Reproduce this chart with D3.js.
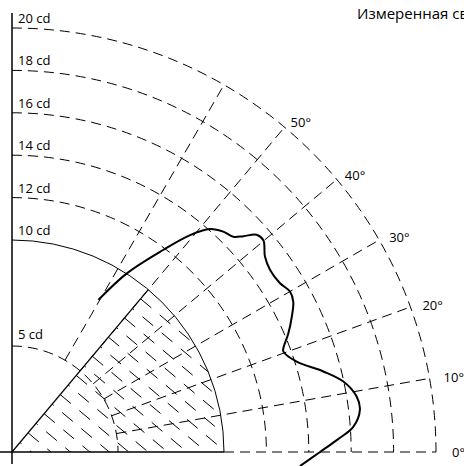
<!DOCTYPE html>
<html>
<head>
<meta charset="utf-8">
<script src="https://cdn.jsdelivr.net/npm/d3@7"></script>
<style>
  body { margin: 0; background: #fff; }
  svg { display: block; }
  text { font-family: "Open Sans", sans-serif; font-size: 13px; fill: #000; }
</style>
</head>
<body>
<div id="chart"></div>
<script>
const width = 464
const height = 466
const origin = { x: 12, y: 452 }

// intensity rings (cd) and angle spokes (deg)
const dashedRings = [12, 14, 16, 18, 20]
const ringLabels = [5, 10, 12, 14, 16, 18, 20]
const spokeAngles = [10, 20, 30, 40, 50, 60]
const angleLabels = [0, 10, 20, 30, 40, 50]

// measured curve, angle from horizontal (deg) and intensity (cd)
const curveAngles = [60.4, 57.3, 53.2, 50.6, 48.4, 46.2, 44.2, 43.0, 41.6, 40.1, 37.7, 35.2,
  32.2, 30.0, 28.1, 25.8, 23.2, 20.9, 20.3, 17.6, 14.5, 12.0, 9.1, 6.9, 4.2, 2.1, 0, -2.8]
const curveValues = [8.25, 10.0, 11.9, 13.24, 14.06, 14.4, 14.56, 14.93, 15.43, 15.5, 15.08, 14.9,
  14.94, 15.14, 15.04, 14.66, 14.18, 13.7, 13.65, 14.09, 15.17, 15.98, 16.47, 16.53, 16.14, 15.33, 14.53, 13.6]

const title = 'Измеренная световая сила'

const r = d3.scaleLinear().domain([0, 20]).range([0, 424])
const rad = (deg) => deg * Math.PI / 180
const px = (deg, cd) => origin.x + r(cd) * Math.cos(rad(deg))
const py = (deg, cd) => origin.y - r(cd) * Math.sin(rad(deg))

const svg = d3.select('#chart')
  .append('svg')
  .attr('width', width)
  .attr('height', height)

function quarter(cd, a0 = 90, a1 = 0) {
  const p = d3.path()
  p.arc(origin.x, origin.y, r(cd), -rad(a0), -rad(a1), false)
  return p.toString()
}

// hatched sector 0..50 deg, radius 10 cd
const sector = d3.path()
sector.moveTo(origin.x, origin.y)
sector.lineTo(px(0, 10), py(0, 10))
sector.arc(origin.x, origin.y, r(10), 0, -rad(50), true)
sector.closePath()

svg.append('clipPath')
  .attr('id', 'sector')
  .append('path')
  .attr('d', sector.toString())

const edge = { x: Math.cos(rad(50)), y: -Math.sin(rad(50)) }
const norm = { x: Math.sin(rad(50)), y: Math.cos(rad(50)) }
const hatchSteps = d3.range(0, r(10) + 1, 12.5)

svg.append('g')
  .attr('clip-path', 'url(#sector)')
  .selectAll('line')
  .data(hatchSteps)
  .join('line')
  .attr('x1', (t) => origin.x + t * edge.x)
  .attr('y1', (t) => origin.y + t * edge.y)
  .attr('x2', (t) => origin.x + t * edge.x + 200 * norm.x)
  .attr('y2', (t) => origin.y + t * edge.y + 200 * norm.y)
  .attr('stroke', '#000')
  .attr('stroke-width', 1)
  .attr('stroke-dasharray', '14,11')
  .attr('stroke-dashoffset', (t, i) => (i % 2 ? 12 : 0))

svg.append('line')
  .attr('x1', origin.x)
  .attr('y1', origin.y)
  .attr('x2', px(50, 10))
  .attr('y2', py(50, 10))
  .attr('stroke', '#000')
  .attr('stroke-width', 1.2)

// grid
const grid = svg.append('g')
  .attr('fill', 'none')
  .attr('stroke', '#000')
  .attr('stroke-width', 1)

grid.selectAll('.ring')
  .data(dashedRings.concat([5]))
  .join('path')
  .attr('class', 'ring')
  .attr('d', (d) => quarter(d))
  .attr('stroke-dasharray', '10,6')

grid.append('path')
  .attr('d', quarter(10))

grid.selectAll('.spoke')
  .data(spokeAngles)
  .join('line')
  .attr('class', 'spoke')
  .attr('x1', (d) => px(d, 5))
  .attr('y1', (d) => py(d, 5))
  .attr('x2', (d) => px(d, 20))
  .attr('y2', (d) => py(d, 20))
  .attr('stroke-dasharray', '10,6')

grid.append('line')
  .attr('x1', px(0, 10))
  .attr('y1', origin.y)
  .attr('x2', px(0, 20))
  .attr('y2', origin.y)
  .attr('stroke-dasharray', '10,6')

// axes
svg.append('line')
  .attr('x1', 0)
  .attr('y1', origin.y)
  .attr('x2', px(0, 10))
  .attr('y2', origin.y)
  .attr('stroke', '#000')
  .attr('stroke-width', 1.5)

svg.append('line')
  .attr('x1', origin.x)
  .attr('y1', 13)
  .attr('x2', origin.x)
  .attr('y2', 464)
  .attr('stroke', '#000')
  .attr('stroke-width', 1.5)

// labels
svg.selectAll('.cd')
  .data(ringLabels)
  .join('text')
  .attr('class', 'cd')
  .attr('x', 18)
  .attr('y', (d) => origin.y - r(d) - (d === 5 ? 7 : 5))
  .text((d) => `${d} cd`)

svg.selectAll('.deg')
  .data(angleLabels)
  .join('text')
  .attr('class', 'deg')
  .attr('x', (d) => px(d, 20) + 16 - 0.2 * d)
  .attr('y', (d) => py(d, 20) + 5 - 0.1 * d)
  .text((d) => `${d}°`)

svg.append('text')
  .attr('x', 357)
  .attr('y', 19)
  .style('font-size', '15px')
  .text(title)

// measured curve
const curve = d3.lineRadial()
  .angle((d) => Math.PI / 2 - rad(d[0]))
  .radius((d) => r(d[1]))
  .curve(d3.curveCatmullRom.alpha(0.5))

svg.append('path')
  .datum(d3.zip(curveAngles, curveValues))
  .attr('transform', `translate(${origin.x},${origin.y})`)
  .attr('d', curve)
  .attr('fill', 'none')
  .attr('stroke', '#000')
  .attr('stroke-width', 2)
</script>
</body>
</html>
